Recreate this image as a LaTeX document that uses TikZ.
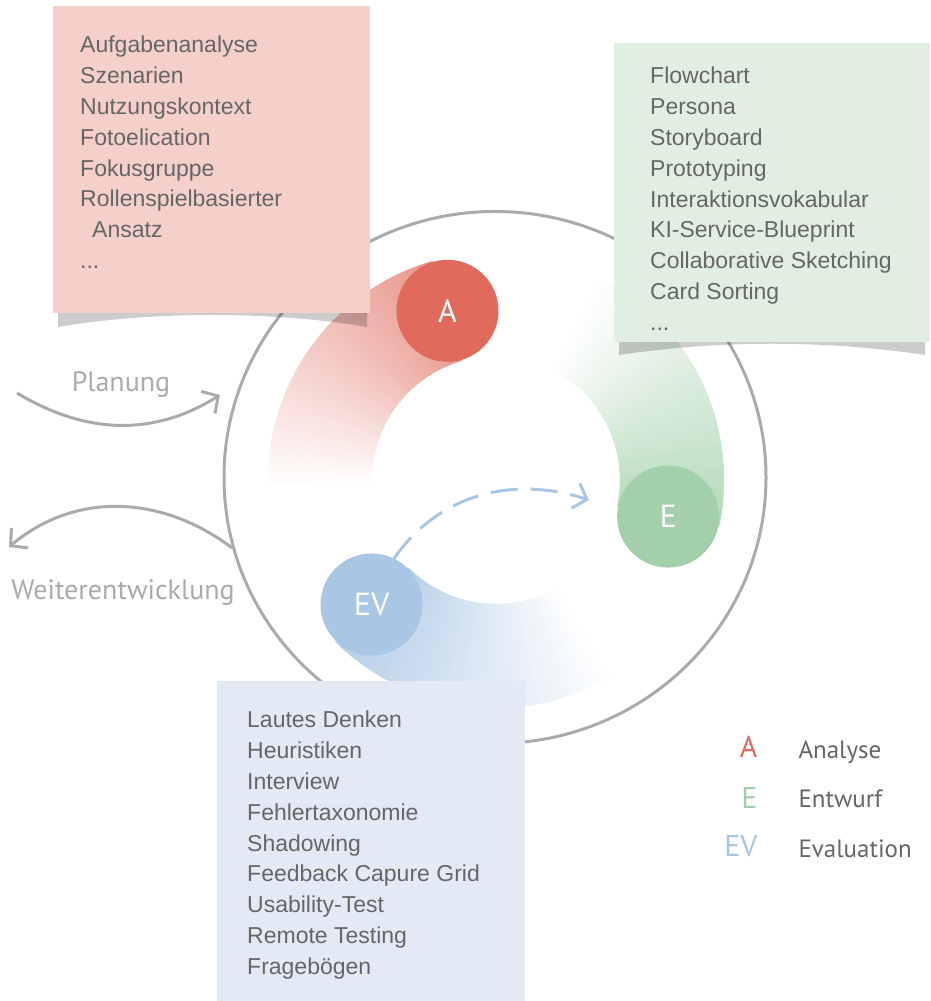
\documentclass[tikz,border=0pt]{standalone}
\usepackage{fontspec}
\setmainfont{Liberation Sans}
\newfontfamily\labelfont{PT Sans}
\usepackage{tikz}
\usetikzlibrary{positioning,calc,arrows.meta,shapes.geometric}

\definecolor{aRed}{HTML}{E06A5C}
\definecolor{eGreen}{HTML}{A3D0AA}
\definecolor{evBlue}{HTML}{A9C6E4}
\definecolor{boxRed}{HTML}{F5CFCA}
\definecolor{boxGreen}{HTML}{E1EFE3}
\definecolor{boxBlue}{HTML}{E3EAF5}
\definecolor{ringGray}{HTML}{ABABAB}
\definecolor{txtGray}{HTML}{666666}

\begin{document}
\begin{tikzpicture}[x=1pt,y=1pt,
    listbox/.style={anchor=north west, inner sep=0pt},
    listtext/.style={anchor=north west, inner sep=0pt, align=left, text=txtGray, font=\fontsize{23}{30.8}\selectfont},
    phase/.style={circle, minimum size=102pt, inner sep=0pt, text=white, font=\labelfont\fontsize{32}{32}\selectfont},
    flow/.style={ringGray, line width=3pt, -{Straight Barb[length=12pt,width=26pt]}},
    flowlabel/.style={anchor=base, text=ringGray, font=\labelfont\fontsize{28}{28}\selectfont},
    shadow/.style={fill=black, opacity=0.2},
    keyletter/.style={anchor=base east, font=\labelfont\fontsize{30}{30}\selectfont},
    keytext/.style={anchor=base west, text=txtGray, font=\labelfont\fontsize{25}{25}\selectfont}]

    \useasboundingbox (0,0) rectangle (930,1001);

    % Ring
    \node[ellipse, draw=ringGray, line width=3pt, minimum width=542pt, minimum height=532pt, inner sep=0pt] (ring) at (495,523.5) {};

    % Bands (overlapping pieces, lighter ones on top)
    \coordinate (O) at (496,521);
    \foreach \i [evaluate=\i as \a using {106+1.5*\i}, evaluate=\i as \p using {70*(1-\i/50)}] in {0,...,50}
        \draw[line width=104pt, aRed!\p!white] ([shift={(\a:176)}]O) arc[start angle=\a, delta angle=3, radius=176pt];
    \foreach \i [evaluate=\i as \a using {-12+1.5*\i}, evaluate=\i as \p using {80*(1-\i/50)}] in {0,...,50}
        \draw[line width=104pt, eGreen!\p!white] ([shift={(\a:176)}]O) arc[start angle=\a, delta angle=3, radius=176pt];
    \foreach \i [evaluate=\i as \a using {225+1.5*\i}, evaluate=\i as \p using {85*(1-\i/50)}] in {0,...,50}
        \draw[line width=104pt, evBlue!\p!white] ([shift={(\a:176)}]O) arc[start angle=\a, delta angle=3, radius=176pt];

    % Boxes
    \fill[shadow] (58,688) -- (58,674) .. controls (150,690) and (275,690) .. (367,674) -- (367,688) -- cycle;
    \fill[shadow] (619,659) -- (619,646) .. controls (720,661) and (825,661) .. (925,646) -- (925,659) -- cycle;
    \node[listbox, fill=boxRed, minimum width=317pt, minimum height=307pt] (abox) at (53,995) {};
    \node[listbox, fill=boxGreen, minimum width=316pt, minimum height=299pt] (ebox) at (614,958) {};
    \node[listbox, fill=boxBlue, minimum width=308pt, minimum height=320pt] (evbox) at (217,320) {};

    \node[listtext] (alist) at (80,965) {Aufgabenanalyse\\Szenarien\\Nutzungskontext\\Fotoelication\\Fokusgruppe\\Rollenspielbasierter\\\hspace*{12pt}Ansatz\\...};
    \node[listtext] (elist) at (650,934) {Flowchart\\Persona\\Storyboard\\Prototyping\\Interaktionsvokabular\\KI-Service-Blueprint\\Collaborative Sketching\\Card Sorting\\...};
    \node[listtext] (evlist) at (247,290) {Lautes Denken\\Heuristiken\\Interview\\Fehlertaxonomie\\Shadowing\\Feedback Capure Grid\\Usability-Test\\Remote Testing\\Fragebögen};

    % Phases
    \node[phase, fill=aRed] (a) at ([shift={(106:176)}]O) {A};
    \node[phase, fill=eGreen] (e) at ([shift={(-12:176)}]O) {E};
    \node[phase, fill=evBlue] (ev) at ([shift={(225:176)}]O) {EV};

    % Back to design
    \coordinate (evtip) at (589,501);
    \draw[evBlue, line width=3pt, dash pattern=on 27pt off 13pt, -{Straight Barb[length=12pt,width=26pt]}] (ev.64) to[out=55, in=162] (evtip);

    % In and out
    \coordinate (plan0) at (17,608);
    \coordinate (plan1) at (220,606);
    \coordinate (next1) at (9,454);
    \draw[flow] (plan0) to[out=-31, in=212] (plan1);
    \draw[flow] (ring.195) to[out=143, in=40] (next1);
    \node[flowlabel] (plan) at (121,609) {Planung};
    \node[flowlabel] (next) at (123,401) {Weiterentwicklung};

    % Legend
    \node[keyletter, text=aRed] (ka) at (761,243) {A};
    \node[keyletter, text=eGreen] (ke) at (761,192) {E};
    \node[keyletter, text=evBlue] (kev) at (761,144) {EV};
    \node[keytext] (ta) at (795,242) {Analyse};
    \node[keytext] (te) at (795,193) {Entwurf};
    \node[keytext] (tev) at (795,143) {Evaluation};
\end{tikzpicture}
\end{document}
